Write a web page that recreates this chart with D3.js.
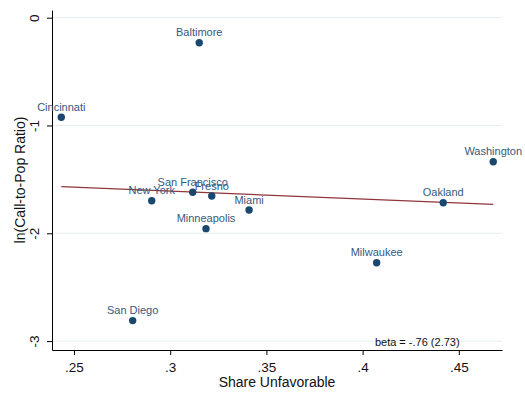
<!DOCTYPE html>
<html>
<head>
<meta charset="utf-8">
<script src="https://d3js.org/d3.v7.min.js"></script>
<style>
  html, body { margin: 0; padding: 0; background: #fff; }
  svg text { font-family: "Liberation Sans", Arial, sans-serif; }
</style>
</head>
<body>
<div id="chart"></div>
<script>
const cities = ["Baltimore", "Cincinnati", "Washington", "Oakland", "Milwaukee", "San Diego",
                "Minneapolis", "Miami", "New York", "San Francisco", "Fresno"];
const shareUnfav = [0.3151, 0.2434, 0.4679, 0.4419, 0.4073, 0.2805, 0.3186, 0.3410, 0.2904, 0.3117, 0.3216];
const lnRatio = [-0.232, -0.924, -1.336, -1.716, -2.273, -2.810, -1.957, -1.784, -1.698, -1.619, -1.654];

const fitX = [0.2434, 0.4679];
const fitY = [-1.567, -1.732];

const xTicks = [0.25, 0.3, 0.35, 0.4, 0.45];
const xTickLabels = [".25", ".3", ".35", ".4", ".45"];
const yTicks = [0, -1, -2, -3];
const yTickLabels = ["0", "-1", "-2", "-3"];

const width = 525, height = 393;
const plot = { left: 52, right: 502, top: 10, bottom: 350 };

const svg = d3.select("#chart").append("svg")
    .attr("width", width)
    .attr("height", height);

const xScale = d3.scaleLinear().domain([0.23857, 0.47245]).range([plot.left, plot.right]);
const yScale = d3.scaleLinear().domain([0.0714, -3.0826]).range([plot.top, plot.bottom]);

// grid lines
svg.append("g").selectAll("line").data(yTicks).join("line")
    .attr("x1", plot.left).attr("x2", plot.right)
    .attr("y1", d => yScale(d)).attr("y2", d => yScale(d))
    .attr("stroke", "#e6eff1").attr("stroke-width", 1);

// axes
const xAxis = svg.append("g")
    .attr("transform", `translate(0,${plot.bottom})`)
    .call(d3.axisBottom(xScale).tickValues(xTicks).tickSize(5).tickSizeOuter(0)
        .tickFormat((d, i) => xTickLabels[i]));
xAxis.selectAll("text").attr("dy", null).attr("y", 22)
    .style("font-size", "13.5px").attr("fill", "#111");

const yAxis = svg.append("g")
    .attr("transform", `translate(${plot.left},0)`)
    .call(d3.axisLeft(yScale).tickValues(yTicks).tickSize(5).tickSizeOuter(0)
        .tickFormat((d, i) => yTickLabels[i]));
yAxis.selectAll("text").attr("x", null).attr("dy", null)
    .attr("text-anchor", "middle")
    .attr("transform", "translate(-13.5,0) rotate(-90)")
    .style("font-size", "13.5px").attr("fill", "#111");

svg.selectAll(".domain, .tick line").attr("stroke", "#000").attr("stroke-width", 1);

// axis titles
svg.append("text")
    .attr("x", (plot.left + plot.right) / 2).attr("y", 386.5)
    .attr("text-anchor", "middle")
    .style("font-size", "14px").attr("fill", "#111")
    .text("Share Unfavorable");

svg.append("text")
    .attr("transform", `translate(25,${(plot.top + plot.bottom) / 2}) rotate(-90)`)
    .attr("text-anchor", "middle")
    .style("font-size", "14px").attr("fill", "#111")
    .text("ln(Call-to-Pop Ratio)");

// fit line
svg.append("line")
    .attr("x1", xScale(fitX[0])).attr("y1", yScale(fitY[0]))
    .attr("x2", xScale(fitX[1])).attr("y2", yScale(fitY[1]))
    .attr("stroke", "#90353b").attr("stroke-width", 1.2);

// points and labels
const pts = cities.map((c, i) => ({ city: c, x: shareUnfav[i], y: lnRatio[i] }));

svg.append("g").selectAll("circle").data(pts).join("circle")
    .attr("cx", d => xScale(d.x)).attr("cy", d => yScale(d.y))
    .attr("r", 3.7).attr("fill", "#1a476f");

svg.append("g").selectAll("text").data(pts).join("text")
    .attr("x", d => xScale(d.x)).attr("y", d => yScale(d.y) - 6.3)
    .attr("text-anchor", "middle")
    .style("font-size", "11px").attr("fill", "#35597f")
    .text(d => d.city);

// beta note
svg.append("text")
    .attr("x", xScale(0.4064)).attr("y", yScale(-3.043))
    .style("font-size", "11px").attr("fill", "#111")
    .text("beta = -.76 (2.73)");
</script>
</body>
</html>
